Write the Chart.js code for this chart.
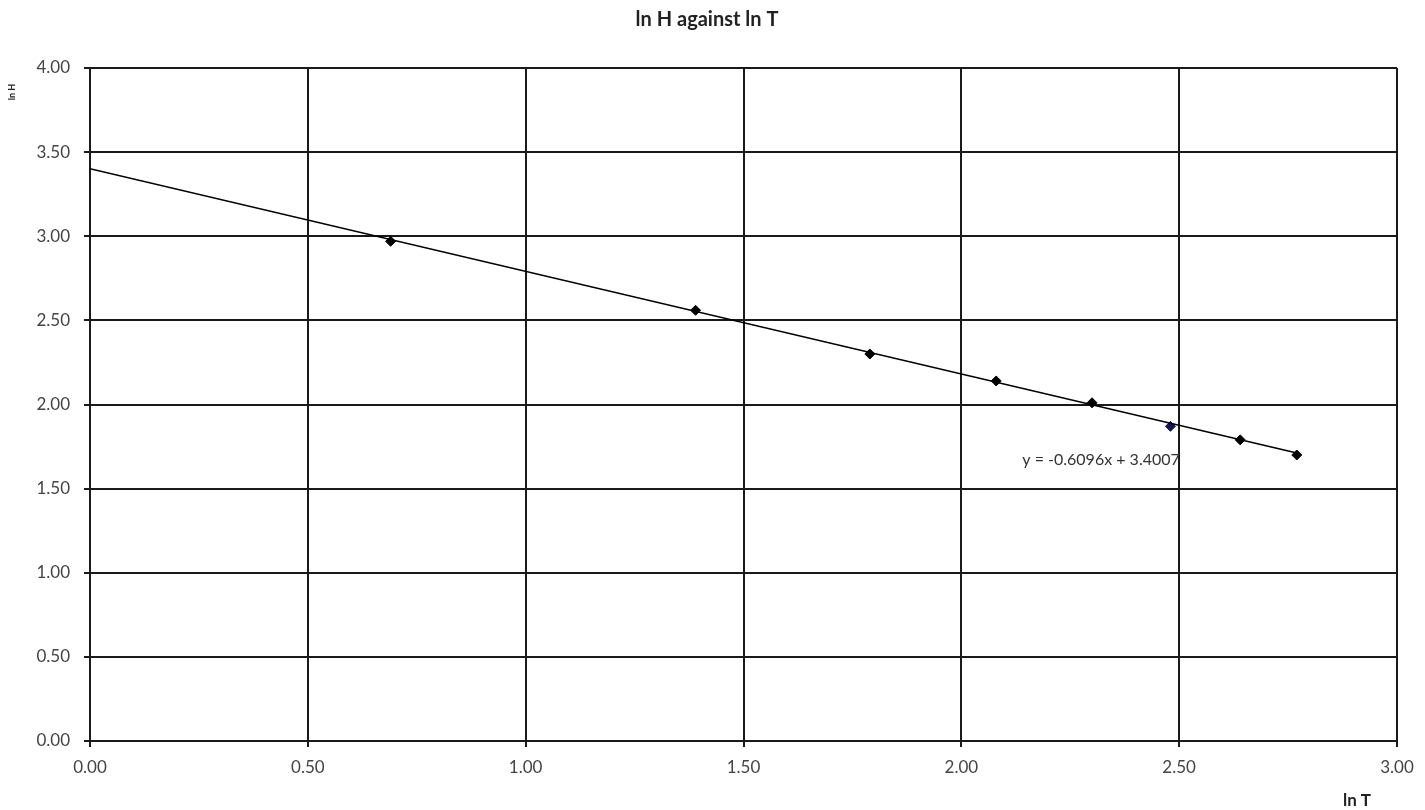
<!DOCTYPE html>
<html>
<head>
<meta charset="utf-8">
<script src="https://cdn.jsdelivr.net/npm/chart.js@4.4.1/dist/chart.umd.min.js"></script>
<style>
    html, body { margin: 0; padding: 0; background: #fff; }
    #wrap { width: 1425px; height: 810px; }
</style>
</head>
<body>
<div id="wrap"><canvas id="chart" width="1425" height="810"></canvas></div>
<script>
// ln T and ln H readings
const lnT = [0.69, 1.39, 1.79, 2.08, 2.30, 2.48, 2.64, 2.77];
const lnH = [2.97, 2.56, 2.30, 2.14, 2.01, 1.87, 1.79, 1.70];
const pointColors = ['#000', '#000', '#000', '#000', '#000', '#14145a', '#000', '#000'];

// linear trendline from the chart
const slope = -0.6096;
const intercept = 3.4007;
const trendRange = [0, 2.77];

const xTicks = [0, 0.5, 1, 1.5, 2, 2.5, 3];
const yTicks = [0, 0.5, 1, 1.5, 2, 2.5, 3, 3.5, 4];

const fontFamily = 'Lato, "Open Sans", sans-serif';

const points = lnT.map((x, i) => ({ x: x, y: lnH[i] }));
const trend = trendRange.map(x => ({ x: x, y: slope * x + intercept }));

const textPlugin = {
    id: 'texts',
    afterDraw(chart) {
        const ctx = chart.ctx;
        const xs = chart.scales.x;
        const ys = chart.scales.y;
        ctx.save();
        ctx.fillStyle = '#222';
        ctx.textAlign = 'center';
        ctx.textBaseline = 'middle';
        ctx.font = 'bold 20px ' + fontFamily;
        ctx.fillText('ln H against ln T', 707, 20);

        ctx.font = 'bold 17px ' + fontFamily;
        ctx.fillText('ln T', 1357, 801);

        ctx.save();
        ctx.translate(12, 92);
        ctx.rotate(-Math.PI / 2);
        ctx.font = 'bold 9px ' + fontFamily;
        ctx.fillText('ln H', 0, 0);
        ctx.restore();

        ctx.fillStyle = '#333';
        ctx.textAlign = 'left';
        ctx.font = '16px ' + fontFamily;
        ctx.fillText('y = -0.6096x + 3.4007', xs.getPixelForValue(2.14), ys.getPixelForValue(1.67));
        ctx.restore();
    }
};

new Chart(document.getElementById('chart'), {
    type: 'scatter',
    data: {
        datasets: [
            {
                label: 'Trend',
                type: 'line',
                data: trend,
                borderColor: '#000',
                borderWidth: 1.5,
                pointRadius: 0,
                fill: false
            },
            {
                label: 'ln H',
                data: points,
                pointStyle: 'rectRot',
                pointRadius: 5,
                backgroundColor: pointColors,
                borderColor: pointColors,
                borderWidth: 1
            }
        ]
    },
    options: {
        responsive: false,
        animation: false,
        layout: { padding: { top: 68, right: 28, bottom: 19, left: 0 } },
        plugins: {
            legend: { display: false },
            tooltip: { enabled: false }
        },
        scales: {
            x: {
                type: 'linear',
                min: 0,
                max: 3,
                afterBuildTicks: s => { s.ticks = xTicks.map(v => ({ value: v })); },
                afterFit: s => { s.height = 50; },
                grid: { color: '#1a1a1a', lineWidth: 2, tickLength: 6, tickColor: '#1a1a1a' },
                border: { color: '#1a1a1a', width: 2 },
                ticks: {
                    padding: 10,
                    color: '#444',
                    font: { family: fontFamily, size: 17 },
                    maxRotation: 0,
                    callback: v => v.toFixed(2)
                }
            },
            y: {
                type: 'linear',
                min: 0,
                max: 4,
                afterBuildTicks: s => { s.ticks = yTicks.map(v => ({ value: v })); },
                afterFit: s => { s.width = 90; },
                grid: { color: '#1a1a1a', lineWidth: 2, tickLength: 6, tickColor: '#1a1a1a' },
                border: { color: '#1a1a1a', width: 2 },
                ticks: {
                    padding: 14,
                    color: '#444',
                    font: { family: fontFamily, size: 17 },
                    callback: v => v.toFixed(2)
                }
            }
        }
    },
    plugins: [textPlugin]
});
</script>
</body>
</html>
